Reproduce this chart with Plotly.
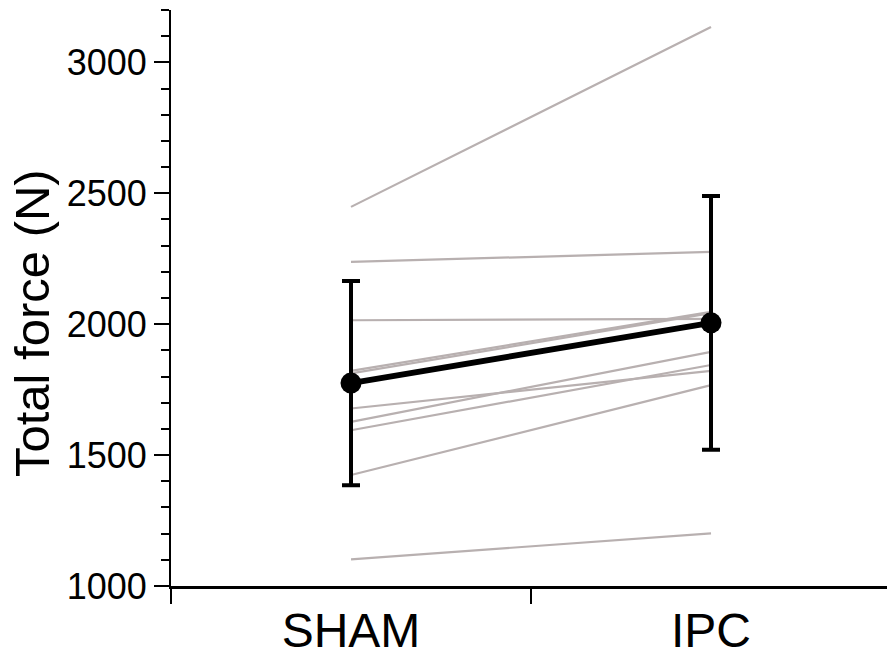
import plotly.graph_objects as go

conditions = ["SHAM", "IPC"]
sham_values = [2448, 2238, 2015, 1822, 1812, 1678, 1627, 1595, 1424, 1102]
ipc_values = [3135, 2276, 2020, 2047, 2042, 1822, 1894, 1844, 1767, 1201]
mean_values = [1775, 2005]
sd_values = [390, 485]
y_tick_values = [1000, 1500, 2000, 2500, 3000]
y_tick_labels = ["1000", "1500", "2000", "2500", "3000"]
y_title = "Total force (N)"

FONT = "Liberation Sans, Arial, Helvetica, sans-serif"
GRAY = "rgb(184,176,176)"

W = 891
fig = go.Figure()
for s, p in zip(sham_values, ipc_values):
    fig.add_trace(go.Scatter(
        x=conditions, y=[s, p], mode="lines",
        line=dict(color=GRAY, width=2.2), hoverinfo="skip", showlegend=False,
    ))

fig.add_trace(go.Scatter(
    x=conditions, y=mean_values, mode="lines+markers",
    line=dict(color="black", width=6),
    marker=dict(color="black", size=21),
    error_y=dict(type="data", array=sd_values, visible=True,
                 color="black", thickness=4, width=9),
    showlegend=False,
))

fig.add_annotation(
    text=y_title, xref="paper", yref="paper",
    x=(32 - 171) / (W - 171), y=(586 - 323) / 576,
    xanchor="center", yanchor="middle", textangle=-90,
    showarrow=False, font=dict(size=49, family=FONT, color="black"),
)

fig.update_layout(
    width=W, height=656,
    margin=dict(l=171, r=0, t=10, b=70),
    plot_bgcolor="white", paper_bgcolor="white",
    font=dict(family=FONT, color="black"),
    xaxis=dict(
        type="category", range=[-0.5, 1.5], automargin=False,
        showline=True, linecolor="black", linewidth=3,
        ticks="outside", tickson="boundaries", ticklen=15, tickwidth=1.5,
        tickcolor="black", showgrid=False, zeroline=False,
        tickfont=dict(size=48, family=FONT),
    ),
    yaxis=dict(
        range=[1000, 3200], automargin=False,
        tickvals=y_tick_values, ticktext=y_tick_labels,
        showline=True, linecolor="black", linewidth=2,
        ticks="outside", ticklen=15, tickwidth=1.5, tickcolor="black",
        minor=dict(dtick=100, ticks="outside", ticklen=8, tickwidth=1.5,
                   tickcolor="black", showgrid=False),
        showgrid=False, zeroline=False,
        tickfont=dict(size=36, family=FONT),
    ),
)

fig.write_html("out.html", config={"displayModeBar": False},
               post_script="document.body.style.margin='0px';document.body.style.overflow='hidden';")
